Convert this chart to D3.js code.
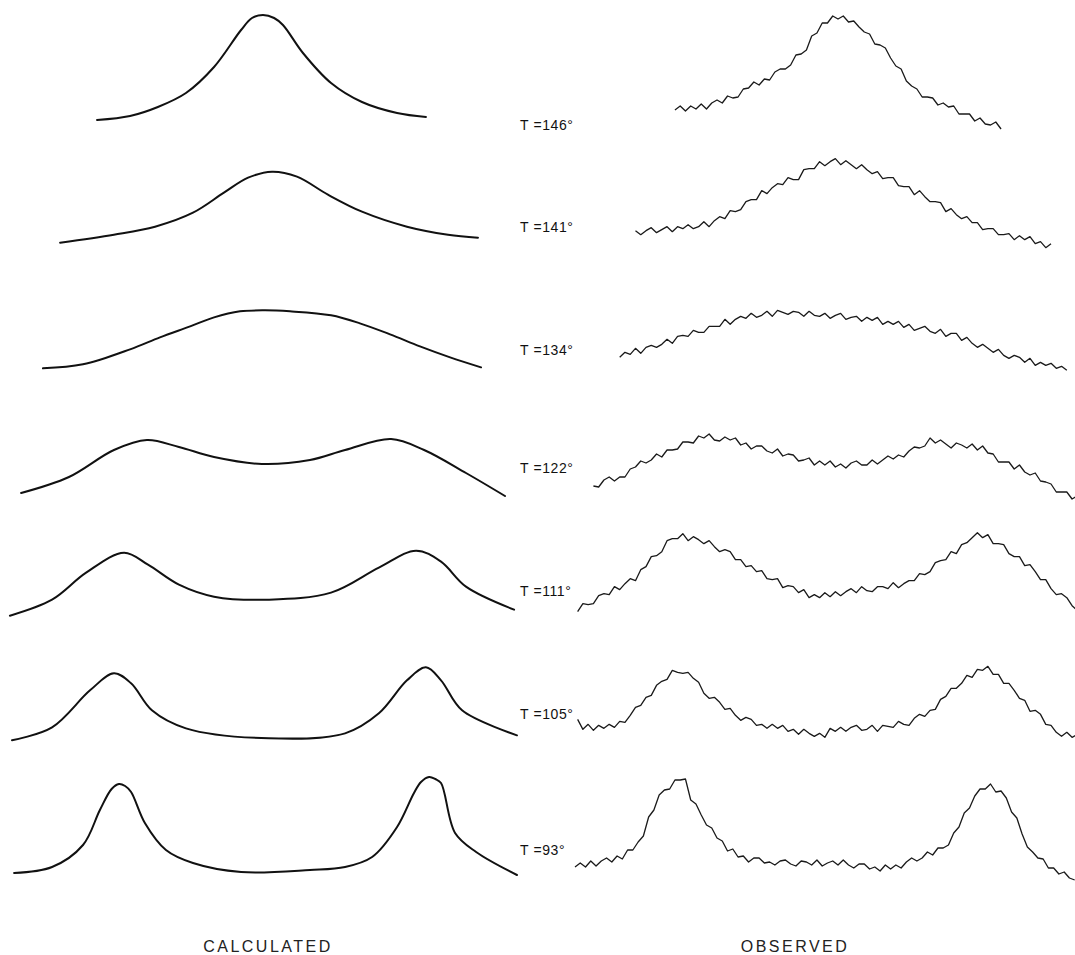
<!DOCTYPE html>
<html>
<head>
<meta charset="utf-8">
<script src="https://cdn.jsdelivr.net/npm/d3@7"></script>
<style>
body { margin: 0; background: #fff; }
svg { display: block; }
</style>
</head>
<body>
<svg></svg>
<script>
// temperatures, top row first
var temps = ["146", "141", "134", "122", "111", "105", "93"];

// calculated lineshapes, [frequency offset, intensity]
var calc146 = [[-0.646,-2],[-0.519,2],[-0.412,11],[-0.304,25],[-0.196,51],[-0.092,88],[-0.050,100],[-0.008,103],[0.035,100],[0.069,93],[0.146,65],[0.254,35],[0.373,16],[0.508,5],[0.619,1]];
var calc141 = [[-0.788,1],[-0.581,9],[-0.423,17],[-0.277,31],[-0.158,51],[-0.065,66],[0.027,72],[0.123,67],[0.242,49],[0.373,32],[0.546,17],[0.704,9],[0.819,6]];
var calc134 = [[-0.854,1],[-0.700,5],[-0.519,20],[-0.404,32],[-0.288,43],[-0.196,52],[-0.096,58],[0,59],[0.096,58],[0.254,54],[0.365,46],[0.481,35],[0.596,23],[0.712,12],[0.831,2]];
var calc122 = [[-0.938,2],[-0.754,18],[-0.581,45],[-0.454,55],[-0.331,48],[-0.196,38],[-0.012,31],[0.173,35],[0.308,45],[0.485,56],[0.612,45],[0.773,22],[0.923,-1]];
var calc111 = [[-0.981,5],[-0.819,21],[-0.688,48],[-0.542,68],[-0.450,56],[-0.331,36],[-0.196,24],[0.015,21],[0.254,28],[0.438,53],[0.581,70],[0.677,59],[0.773,34],[0.958,11]];
var calc105 = [[-0.973,6],[-0.819,19],[-0.673,56],[-0.581,73],[-0.515,63],[-0.435,36],[-0.304,18],[0.015,8],[0.308,13],[0.438,33],[0.546,66],[0.619,79],[0.677,66],[0.758,36],[0.969,11]];
var calc93 = [[-0.965,-1],[-0.819,5],[-0.700,27],[-0.635,62],[-0.590,83],[-0.562,88],[-0.538,86],[-0.515,80],[-0.462,49],[-0.381,22],[-0.277,9],[-0.092,0],[0.173,2],[0.308,5],[0.412,15],[0.508,45],[0.573,79],[0.600,90],[0.631,95],[0.655,93],[0.677,89],[0.731,39],[0.812,20],[0.969,-3]];

// observed traces, one reading every 0.02 starting at obsStart
var obsStart = [-0.62, -0.77, -0.83, -0.93, -0.99, -0.99, -1.00];
var obsStep = 0.02;
var obs146 = [8,12,7,12,9,14,9,15,18,15,22,20,21,29,30,36,33,39,38,46,49,49,53,63,64,68,82,85,95,95,102,99,102,96,97,91,86,84,74,73,70,60,52,49,37,32,29,21,21,20,13,15,11,12,4,4,4,-3,0,-6,-7,-4,-11];
var obs141 = [13,9,13,16,11,14,17,12,17,15,19,15,17,22,17,23,27,25,33,32,34,42,44,44,53,50,56,60,59,66,64,64,74,75,75,82,78,82,85,79,83,79,75,79,74,70,72,65,66,66,58,57,57,49,53,47,42,42,41,32,35,29,25,27,21,21,14,15,15,9,9,10,4,8,4,7,0,2,-4,0];
var obs134 = [12,17,15,21,16,22,24,22,25,30,26,33,34,33,39,37,37,43,43,43,50,45,50,53,51,56,52,54,58,53,59,57,55,58,57,53,58,54,53,56,51,54,56,50,52,53,48,52,49,52,45,48,45,48,42,45,39,41,43,38,36,40,33,36,36,29,32,26,22,25,21,17,20,14,11,14,12,7,11,4,7,4,6,1,3,-1];
var obs122 = [9,8,15,18,14,18,18,26,28,34,32,35,41,38,45,45,46,53,53,52,59,57,61,55,54,58,55,57,50,52,46,49,49,44,42,46,39,41,40,34,35,37,30,34,30,34,28,31,27,32,34,30,30,35,31,35,39,36,40,38,44,48,47,49,57,52,55,51,47,52,50,47,51,45,49,42,41,33,33,33,26,30,23,20,22,14,13,11,3,3,3,-4,-1];
var obs111 = [9,17,16,17,25,27,26,34,31,37,42,40,51,54,64,65,69,80,82,82,87,80,84,81,77,80,74,69,71,69,61,61,54,55,49,50,42,41,42,33,35,34,28,31,23,26,23,28,24,29,25,29,32,28,34,30,29,34,34,32,38,33,37,40,40,47,46,49,58,60,61,69,67,76,78,83,88,83,86,77,77,76,67,64,64,55,56,49,41,41,32,26,27,23,15,10];
var obs105 = [27,17,22,16,21,18,22,19,25,24,31,39,41,49,51,61,65,67,76,74,73,74,68,64,53,48,49,44,37,38,31,26,29,27,21,22,18,22,18,21,15,17,12,17,13,10,13,9,18,15,19,15,19,21,16,17,21,15,21,20,19,25,22,21,28,32,30,36,37,47,50,58,58,63,71,69,77,76,80,72,72,63,63,56,48,46,35,36,32,22,21,14,10,14,9,12];
var obs93 = [5,9,5,11,6,11,14,10,16,13,22,22,30,36,55,62,77,82,83,92,92,93,72,68,57,47,44,34,31,21,23,15,16,10,14,14,9,10,7,11,12,8,6,11,10,7,12,6,9,11,7,12,7,4,8,8,3,5,1,7,3,7,4,10,14,11,14,20,17,24,24,27,39,45,59,64,76,83,83,88,80,81,74,60,54,38,25,20,14,13,4,4,-2,0,-6,-8];

var calcCurves = [calc146, calc141, calc134, calc122, calc111, calc105, calc93];
var obsCurves = [obs146, obs141, obs134, obs122, obs111, obs105, obs93];

var screen = {width: 1075, height: 955};
// label centres, one per row
var labelY = [125, 227, 350, 468, 591, 714, 850];

var svg = d3.select("svg")
    .attr("width", screen.width)
    .attr("height", screen.height);

var rowY = d3.scalePoint().domain(temps).range([118, 872]);
var xCalc = d3.scaleLinear().domain([-1, 1]).range([5, 525]);
var xObs = d3.scaleLinear().domain([-1, 1]).range([575, 1101]);
var amp = d3.scaleLinear().domain([0, 100]).range([0, 100]);

var drawCalc = function(points, t)
{
    var line = d3.line()
        .x(function(d) { return xCalc(d[0]); })
        .y(function(d) { return rowY(t) - amp(d[1]); })
        .curve(d3.curveCatmullRom.alpha(0.5));

    svg.append("path")
        .datum(points)
        .attr("d", line)
        .attr("fill", "none")
        .attr("stroke", "#111")
        .attr("stroke-width", 2)
        .attr("stroke-linecap", "round");
}

var drawObs = function(values, i, t)
{
    //turn the readings into [frequency, intensity]
    var points = values.map(function(v, j) { return [obsStart[i] + j * obsStep, v]; });

    var line = d3.line()
        .x(function(d) { return xObs(d[0]); })
        .y(function(d) { return rowY(t) - amp(d[1]); });

    svg.append("path")
        .datum(points)
        .attr("d", line)
        .attr("fill", "none")
        .attr("stroke", "#1a1a1a")
        .attr("stroke-width", 1.3)
        .attr("stroke-linejoin", "round");
}

temps.forEach(function(t, i)
{
    drawCalc(calcCurves[i], t);
    drawObs(obsCurves[i], i, t);

    svg.append("text")
        .attr("x", 520)
        .attr("y", labelY[i])
        .attr("dy", "0.35em")
        .attr("font-family", "Liberation Sans, Arial, sans-serif")
        .attr("font-size", 14)
        .attr("letter-spacing", 0.6)
        .attr("fill", "#111")
        .text("T =" + t + "\u00b0");
});

svg.selectAll(".foot")
    .data([["CALCULATED", 268], ["OBSERVED", 795]])
    .enter()
    .append("text")
    .attr("class", "foot")
    .attr("x", function(d) { return d[1]; })
    .attr("y", 946)
    .attr("dy", "0.35em")
    .attr("text-anchor", "middle")
    .attr("font-family", "Liberation Sans, Arial, sans-serif")
    .attr("font-size", 16)
    .attr("letter-spacing", 2.5)
    .attr("fill", "#222")
    .text(function(d) { return d[0]; });
</script>
</body>
</html>
